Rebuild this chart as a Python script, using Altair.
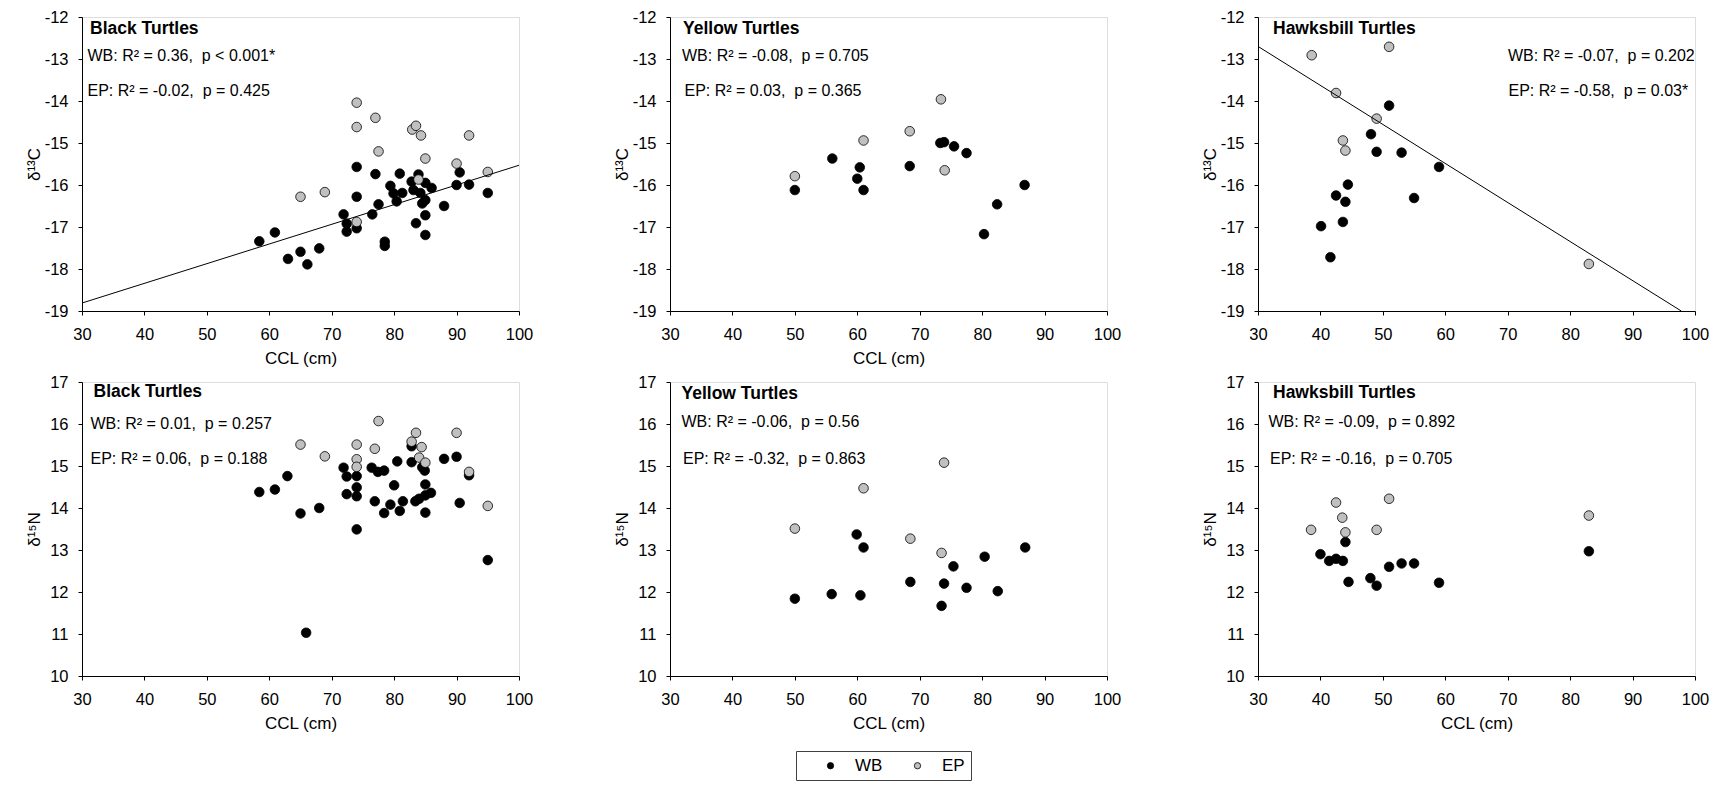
import altair as alt
import pandas as pd

GROUPS = ["WB", "EP"]
COLORS = ["#000000", "#c0c0c0"]
X_TICKS = [30, 40, 50, 60, 70, 80, 90, 100]
C_TICKS = [-19, -18, -17, -16, -15, -14, -13, -12]
N_TICKS = [10, 11, 12, 13, 14, 15, 16, 17]

# ---- Black turtles, d13C ----
bc_wb_x = [58.4, 60.9, 63.0, 65.0, 66.1, 68.0, 71.9, 72.4, 72.4, 74.0, 74.0, 74.0, 76.5, 77.0, 77.5,
           78.5, 78.5, 79.4, 79.9, 80.4, 80.9, 81.3, 82.8, 83.1, 83.5, 83.9, 84.2, 84.5, 85.0, 85.0,
           85.0, 85.0, 86.0, 88.0, 90.0, 90.5, 92.0, 95.0]
bc_wb_y = [-17.34, -17.13, -17.76, -17.59, -17.89, -17.51, -16.70, -16.92, -17.11, -15.57, -16.28,
           -17.03, -16.70, -15.74, -16.46, -17.35, -17.45, -16.02, -16.20, -16.39, -15.73, -16.19,
           -15.92, -16.12, -16.91, -15.75, -16.19, -16.44, -15.95, -16.36, -16.72, -17.19, -16.07,
           -16.50, -16.00, -15.70, -15.99, -16.19]
bc_ep_x = [65.0, 68.9, 74.0, 74.0, 74.0, 77.0, 77.5, 82.9, 83.5, 84.3, 83.9, 85.0, 90.0, 92.0, 95.0]
bc_ep_y = [-16.28, -16.17, -14.04, -14.62, -16.88, -14.40, -15.20, -14.68, -14.59, -14.82, -15.87,
           -15.37, -15.49, -14.82, -15.69]
bc_line_x = [30, 100]
bc_line_y = [-18.81, -15.53]

# ---- Yellow turtles, d13C ----
yc_wb_x = [50.0, 56.0, 60.0, 60.4, 61.0, 68.4, 73.3, 73.9, 75.5, 77.5, 80.3, 82.4, 86.8]
yc_wb_y = [-16.12, -15.37, -15.85, -15.58, -16.12, -15.55, -15.00, -14.98, -15.08, -15.24, -17.17,
           -16.46, -16.00]
yc_ep_x = [50.0, 61.0, 68.4, 73.4, 74.0]
yc_ep_y = [-15.79, -14.94, -14.72, -13.96, -15.65]

# ---- Hawksbill turtles, d13C ----
hc_wb_x = [40.1, 41.6, 42.5, 43.6, 44.0, 44.4, 48.1, 49.0, 51.0, 53.0, 55.0, 59.0]
hc_wb_y = [-16.98, -17.72, -16.25, -16.88, -16.40, -15.99, -14.79, -15.21, -14.11, -15.23, -16.31,
           -15.57]
hc_ep_x = [38.6, 42.5, 43.6, 44.0, 49.0, 51.0, 83.0]
hc_ep_y = [-12.91, -13.81, -14.94, -15.18, -14.42, -12.71, -17.88]
hc_line_x = [30, 97.8]
hc_line_y = [-12.70, -19.0]

# ---- Black turtles, d15N ----
bn_wb_x = [58.4, 60.9, 62.9, 65.0, 65.9, 68.0, 71.9, 72.4, 72.4, 74.0, 74.0, 74.0, 74.0, 76.4, 76.9,
           77.4, 78.4, 78.4, 79.4, 80.0, 80.5, 80.9, 81.4, 82.8, 82.8, 83.4, 84.0, 84.5, 84.9, 85.0,
           85.0, 85.0, 85.9, 88.0, 90.0, 90.5, 92.0, 95.0]
bn_wb_y = [14.38, 14.44, 14.76, 13.87, 11.03, 14.00, 14.96, 14.75, 14.33, 14.76, 14.49, 14.28, 13.49,
           14.96, 14.16, 14.86, 14.89, 13.88, 14.08, 14.54, 15.11, 13.93, 14.16, 15.47, 15.09, 14.16,
           14.22, 14.97, 14.89, 14.56, 14.30, 13.89, 14.36, 15.17, 15.22, 14.12, 14.78, 12.76]
bn_ep_x = [65.0, 68.9, 74.0, 74.0, 74.0, 76.9, 77.5, 82.8, 83.5, 84.4, 84.0, 85.0, 90.0, 92.0, 95.0]
bn_ep_y = [15.51, 15.23, 15.51, 15.16, 14.98, 15.41, 16.07, 15.58, 15.79, 15.45, 15.20, 15.08, 15.79,
           14.86, 14.05]

# ---- Yellow turtles, d15N ----
yn_wb_x = [50.0, 55.9, 59.9, 60.5, 61.0, 68.5, 73.5, 73.9, 75.4, 77.5, 80.4, 82.5, 86.9]
yn_wb_y = [11.84, 11.95, 13.37, 11.92, 13.06, 12.24, 11.67, 12.20, 12.61, 12.10, 12.84, 12.02, 13.06]
yn_ep_x = [50.0, 61.0, 68.5, 73.5, 73.9]
yn_ep_y = [13.51, 14.47, 13.27, 12.93, 15.08]

# ---- Hawksbill turtles, d15N ----
hn_wb_x = [40.0, 41.4, 42.5, 43.6, 44.0, 44.5, 48.0, 49.0, 51.0, 53.0, 55.0, 59.0, 83.0]
hn_wb_y = [12.90, 12.74, 12.79, 12.74, 13.19, 12.24, 12.33, 12.15, 12.60, 12.68, 12.68, 12.22, 12.97]
hn_ep_x = [38.5, 42.5, 43.5, 44.0, 49.0, 51.0, 83.0]
hn_ep_y = [13.48, 14.13, 13.77, 13.42, 13.48, 14.22, 13.82]

# ---- texts ----
names = ["Black Turtles", "Yellow Turtles", "Hawksbill Turtles",
         "Black Turtles", "Yellow Turtles", "Hawksbill Turtles"]
wb_stats = ["WB: R\u00b2 = 0.36,\u00a0 p < 0.001*", "WB: R\u00b2 = -0.08,\u00a0 p = 0.705",
            "WB: R\u00b2 = -0.07,\u00a0 p = 0.202", "WB: R\u00b2 = 0.01,\u00a0 p = 0.257",
            "WB: R\u00b2 = -0.06,\u00a0 p = 0.56", "WB: R\u00b2 = -0.09,\u00a0 p = 0.892"]
ep_stats = ["EP: R\u00b2 = -0.02,\u00a0 p = 0.425", "EP: R\u00b2 = 0.03,\u00a0 p = 0.365",
            "EP: R\u00b2 = -0.58,\u00a0 p = 0.03*", "EP: R\u00b2 = 0.06,\u00a0 p = 0.188",
            "EP: R\u00b2 = -0.32,\u00a0 p = 0.863", "EP: R\u00b2 = -0.16,\u00a0 p = 0.705"]
Y_TITLE_C = "\u03b4\u00b9\u00b3C"
Y_TITLE_N = "\u03b4\u00b9\u2075N"
X_TITLE = "CCL (cm)"

FONT = "Liberation Sans"
W, H = 437, 294

legend = alt.Legend(orient="none", legendX=714, legendY=734, direction="horizontal", title=None,
                    strokeColor="#404040", fillColor="white", padding=6, symbolType="circle",
                    symbolSize=40, symbolStrokeColor="black", symbolStrokeWidth=0.8,
                    labelFontSize=17, labelFont=FONT, labelColor="black",
                    symbolOffset=20, labelOffset=16, columnPadding=6)


def make_panel(wx, wy, ex, ey, ydom, yticks, ytitle, xtitle, name, wb, ep, pos,
               lx=None, ly=None):
    df = pd.DataFrame({
        "ccl": list(wx) + list(ex),
        "val": list(wy) + list(ey),
        "group": ["WB"] * len(wx) + ["EP"] * len(ex),
    })
    xaxis_kw = dict(values=X_TICKS, grid=False, tickSize=4, labelPadding=11, titlePadding=8,
                    labelFontSize=16.5, titleFontSize=17, domainColor="black", tickColor="black",
                    labelColor="black", titleColor="black", titleFontWeight="normal",
                    labelFlush=False, labelOverlap=False, labelExpr="'' + datum.value")
    if xtitle:
        xaxis = alt.Axis(title=xtitle, **xaxis_kw)
    else:
        xaxis = alt.Axis(title=None, **xaxis_kw)
    yaxis = alt.Axis(values=yticks, title=ytitle, grid=False, tickSize=4, labelPadding=10,
                     labelFontSize=16.5, titleFontSize=17, domainColor="black", tickColor="black",
                     labelColor="black", titleColor="black", titleFontWeight="normal",
                     titleX=-48, titleY=H / 2, titleAngle=270, titleAlign="center",
                     titleBaseline="middle", labelFlush=False, labelOverlap=False,
                     labelExpr="'' + datum.value")
    x = alt.X("ccl:Q", scale=alt.Scale(domain=[30, 100], nice=False, zero=False), axis=xaxis)
    y = alt.Y("val:Q", scale=alt.Scale(domain=ydom, nice=False, zero=False), axis=yaxis)
    pts = alt.Chart(df).mark_point(filled=True, size=92, stroke="black", strokeWidth=0.8,
                                   opacity=1).encode(
        x=x, y=y,
        color=alt.Color("group:N", scale=alt.Scale(domain=GROUPS, range=COLORS), legend=legend),
    )
    layers = [pts]
    if lx is not None:
        ldf = pd.DataFrame({"ccl": lx, "val": ly})
        layers.append(alt.Chart(ldf).mark_line(color="black", strokeWidth=1).encode(
            x="ccl:Q", y="val:Q"))
    (nx, ny), (wbx, wby), (epx, epy) = pos
    for txt, tx, ty, bold in [(name, nx, ny, True), (wb, wbx, wby, False), (ep, epx, epy, False)]:
        layers.append(alt.Chart(pd.DataFrame({"t": [txt]})).mark_text(
            align="left", baseline="middle", font=FONT, fontSize=17.5 if bold else 16,
            fontWeight="bold" if bold else "normal", color="black").encode(
            text="t:N", x=alt.value(tx), y=alt.value(ty)))
    return alt.layer(*layers).properties(width=W, height=H)


p1 = make_panel(bc_wb_x, bc_wb_y, bc_ep_x, bc_ep_y, [-19, -12], C_TICKS, Y_TITLE_C, X_TITLE,
                names[0], wb_stats[0], ep_stats[0], ((8, 12), (5.5, 39), (5.5, 74)),
                bc_line_x, bc_line_y)
p2 = make_panel(yc_wb_x, yc_wb_y, yc_ep_x, yc_ep_y, [-19, -12], C_TICKS, Y_TITLE_C, X_TITLE,
                names[1], wb_stats[1], ep_stats[1], ((13, 12), (12, 39), (14.5, 74)))
p3 = make_panel(hc_wb_x, hc_wb_y, hc_ep_x, hc_ep_y, [-19, -12], C_TICKS, Y_TITLE_C, None,
                names[2], wb_stats[2], ep_stats[2], ((15, 12), (250, 39), (250.5, 74)),
                hc_line_x, hc_line_y)
p4 = make_panel(bn_wb_x, bn_wb_y, bn_ep_x, bn_ep_y, [10, 17], N_TICKS, Y_TITLE_N, X_TITLE,
                names[3], wb_stats[3], ep_stats[3], ((11.5, 10), (8.5, 41.5), (8.5, 76.5)))
p5 = make_panel(yn_wb_x, yn_wb_y, yn_ep_x, yn_ep_y, [10, 17], N_TICKS, Y_TITLE_N, X_TITLE,
                names[4], wb_stats[4], ep_stats[4], ((11.5, 12), (11.5, 40), (13, 76.5)))
p6 = make_panel(hn_wb_x, hn_wb_y, hn_ep_x, hn_ep_y, [10, 17], N_TICKS, Y_TITLE_N, X_TITLE,
                names[5], wb_stats[5], ep_stats[5], ((15, 11), (10.5, 40), (12, 76.5)))

chart = alt.concat(p1, p2, p3, p4, p5, p6, columns=3,
                   spacing={"row": 71, "column": 151}, bounds="flush").resolve_scale(
    color="shared").properties(
    padding={"left": 16, "top": 0, "right": 0, "bottom": 0}
).configure_view(strokeWidth=0).configure(font=FONT, background="white")

chart.save("out.html", embed_options={"renderer": "svg", "actions": False})
